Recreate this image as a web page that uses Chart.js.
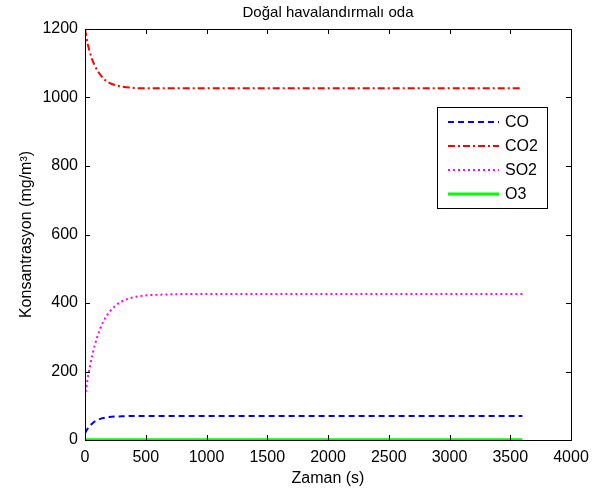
<!DOCTYPE html>
<html>
<head>
<meta charset="utf-8">
<script src="https://cdn.jsdelivr.net/npm/chart.js@4.4.1/dist/chart.umd.min.js"></script>
<style>
  html, body { margin: 0; padding: 0; background: #fff; }
  #wrap { width: 597px; height: 492px; }
</style>
</head>
<body>
<div id="wrap"><canvas id="chart" width="597" height="492"></canvas></div>
<script>
// zaman (s) ve konsantrasyon değerleri
const times = [0, 20, 40, 60, 80, 100, 150, 200, 250, 300, 400, 500, 600, 800, 1000, 1500, 2000, 2500, 3000, 3600];
const co   = [20, 32, 41, 48, 54, 58, 64, 67, 68.5, 69, 70, 70, 70, 70, 70, 70, 70, 70, 70, 70];
const co2  = [1200, 1160, 1132, 1110, 1094, 1080, 1056, 1043, 1036, 1032, 1028, 1027, 1027, 1027, 1027, 1027, 1027, 1027, 1027, 1027];
const so2  = [126, 176, 214, 248, 276, 300, 345, 373, 392, 404, 417, 422, 424, 426, 426, 426, 426, 426, 426, 426];
const o3   = [1, 1, 1, 1, 1, 1, 1, 1, 1, 1, 1, 1, 1, 1, 1, 1, 1, 1, 1, 1];

const xTicks = [0, 500, 1000, 1500, 2000, 2500, 3000, 3500, 4000];
const yTicks = [0, 200, 400, 600, 800, 1000, 1200];

const FONT = 'Arial, "Liberation Sans", Helvetica, sans-serif';

function pts(vals) {
  return times.map((t, i) => ({ x: t, y: vals[i] }));
}

// matlab tarzı kutu, içe dönük çentikler, başlık ve lejant
const matlabFrame = {
  id: 'matlabFrame',
  afterDraw(chart) {
    const { ctx, chartArea: a, scales } = chart;
    ctx.save();
    ctx.strokeStyle = '#000';
    ctx.lineWidth = 1;
    ctx.strokeRect(Math.round(a.left) + 0.5, Math.round(a.top) + 0.5,
                   Math.round(a.right - a.left), Math.round(a.bottom - a.top));
    const tl = 5;
    ctx.beginPath();
    xTicks.forEach(v => {
      const px = Math.round(scales.x.getPixelForValue(v)) + 0.5;
      ctx.moveTo(px, a.bottom); ctx.lineTo(px, a.bottom - tl);
      ctx.moveTo(px, a.top); ctx.lineTo(px, a.top + tl);
    });
    yTicks.forEach(v => {
      const py = Math.round(scales.y.getPixelForValue(v)) + 0.5;
      ctx.moveTo(a.left, py); ctx.lineTo(a.left + tl, py);
      ctx.moveTo(a.right, py); ctx.lineTo(a.right - tl, py);
    });
    ctx.stroke();

    // başlık
    ctx.fillStyle = '#000';
    ctx.font = '15px ' + FONT;
    ctx.textAlign = 'center';
    ctx.textBaseline = 'middle';
    ctx.fillText('Doğal havalandırmalı oda', (a.left + a.right) / 2, 13);

    // lejant
    const bx = 437.5, by = 107.5, bw = 110, bh = 101;
    ctx.fillStyle = '#fff';
    ctx.fillRect(bx, by, bw, bh);
    ctx.strokeRect(bx, by, bw, bh);
    const rows = [122, 146, 170, 194];
    chart.data.datasets.forEach((ds, i) => {
      ctx.save();
      ctx.strokeStyle = ds.borderColor;
      ctx.lineWidth = ds.borderWidth;
      ctx.setLineDash(ds.borderDash || []);
      ctx.beginPath();
      ctx.moveTo(448, rows[i]);
      ctx.lineTo(499, rows[i]);
      ctx.stroke();
      ctx.restore();
      ctx.fillStyle = '#000';
      ctx.font = '16px ' + FONT;
      ctx.textAlign = 'left';
      ctx.fillText(ds.label, 505, rows[i] + 1);
    });
    ctx.restore();
  }
};

new Chart(document.getElementById('chart'), {
  type: 'line',
  data: {
    datasets: [
      { label: 'CO', data: pts(co), borderColor: '#0000ff', borderWidth: 2, borderDash: [6, 4] },
      { label: 'CO2', data: pts(co2), borderColor: '#ff0000', borderWidth: 2, borderDash: [7, 3, 2, 3] },
      { label: 'SO2', data: pts(so2), borderColor: '#ff00ff', borderWidth: 2, borderDash: [2, 3] },
      { label: 'O3', data: pts(o3), borderColor: '#00ff00', borderWidth: 3 }
    ]
  },
  options: {
    responsive: false,
    animation: false,
    layout: { padding: { top: 29, right: 26, left: 0, bottom: 0 } },
    elements: {
      point: { radius: 0 },
      line: { cubicInterpolationMode: 'monotone', fill: false }
    },
    plugins: {
      legend: { display: false },
      title: { display: false },
      tooltip: { enabled: false }
    },
    scales: {
      x: {
        type: 'linear', min: 0, max: 4000,
        afterFit: s => { s.height = 52; },
        afterBuildTicks: s => { s.ticks = xTicks.map(v => ({ value: v })); },
        grid: { display: false, drawTicks: false },
        border: { display: false },
        ticks: { color: '#000', font: { size: 16, family: FONT }, padding: 8, maxRotation: 0, callback: v => String(v) },
        title: { display: true, text: 'Zaman (s)', color: '#000', font: { size: 16, family: FONT }, padding: { top: 0, bottom: 4 } }
      },
      y: {
        min: 0, max: 1200,
        afterFit: s => { s.width = 85; },
        afterBuildTicks: s => { s.ticks = yTicks.map(v => ({ value: v })); },
        grid: { display: false, drawTicks: false },
        border: { display: false },
        ticks: { color: '#000', font: { size: 16, family: FONT }, padding: 7, callback: v => String(v) },
        title: { display: true, text: 'Konsantrasyon (mg/m³)', color: '#000', font: { size: 16, family: FONT }, padding: { top: 17, bottom: 0 } }
      }
    }
  },
  plugins: [matlabFrame]
});
</script>
</body>
</html>
